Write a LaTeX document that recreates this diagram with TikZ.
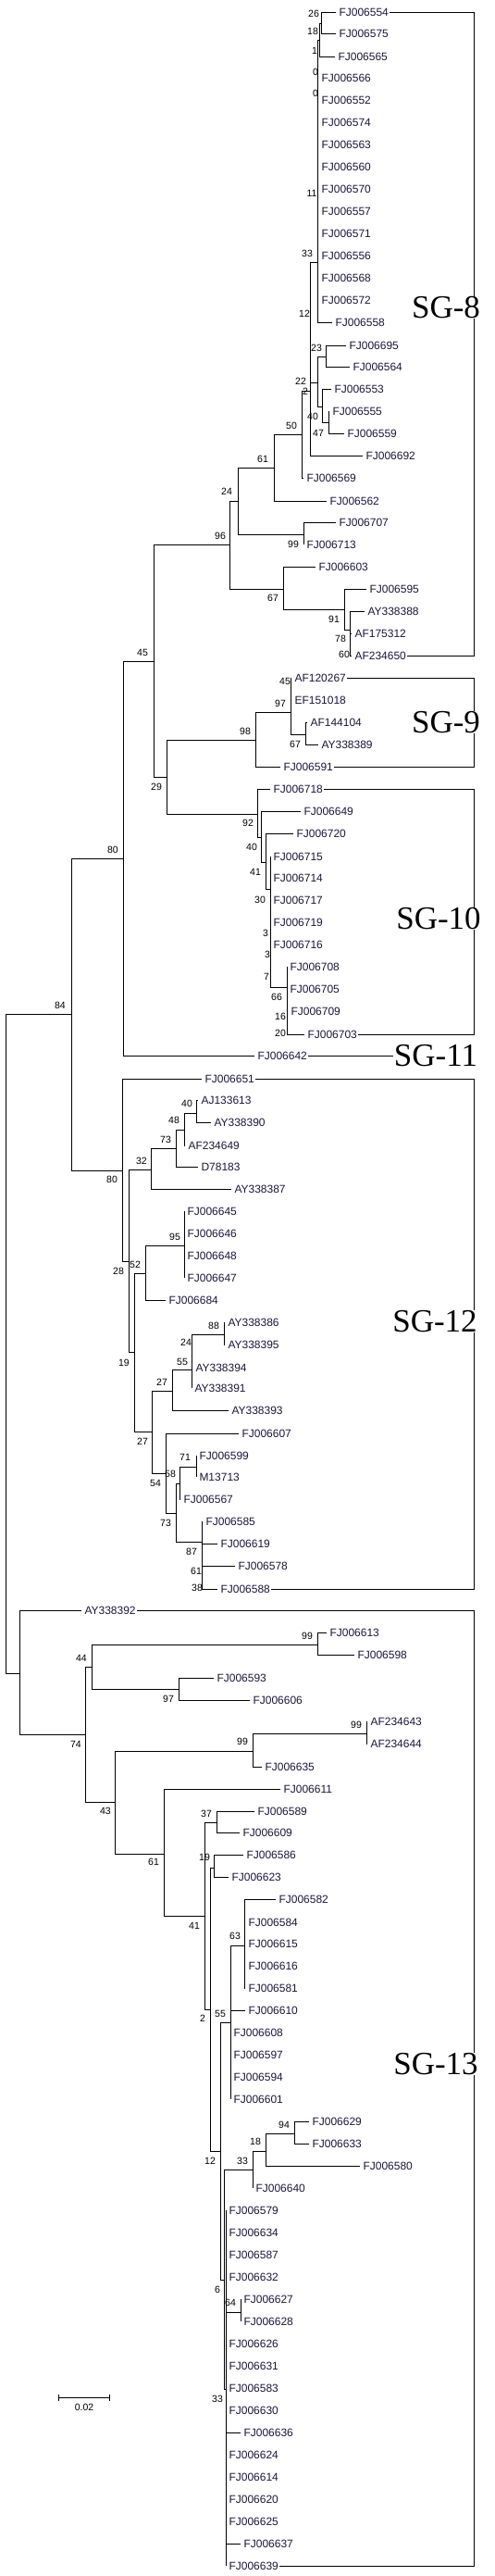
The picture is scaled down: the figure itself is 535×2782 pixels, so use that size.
\documentclass[tikz,border=0pt]{standalone}
\usepackage{fontspec}
\setmainfont{Liberation Sans}
\newfontfamily\sgfont{Liberation Serif}
\usetikzlibrary{arrows.meta}
\definecolor{taxonink}{RGB}{28,22,58}
\def\fork(#1)(#2)(#3){\coordinate (#2) at (#3); \draw (#1) |- (#2);}
\def\taxon(#1)(#2)(#3){\node[taxon] (#2) at (#3) {#2}; \draw (#1) |- ([xshift=-2pt]#2.west);}
\def\clade(#1)(#2)(#3)(#4)(#5){\draw (#1.east) -- (#1.east -| sgx) |- (#2.east); \node[sg] (#3) at (#4) {#5};}
\tikzset{
  taxon/.style={anchor=west, xshift=-2pt, inner xsep=1pt, inner ysep=0pt, text height=8.6pt, text depth=0pt, font=\fontsize{12}{12}\selectfont, text=taxonink},
  boot/.style={inner sep=0pt, font=\fontsize{10.5}{10.5}\selectfont},
  sg/.style={fill=white, inner sep=0.5pt, text height=23pt, text depth=0pt, font=\sgfont\fontsize{35}{35}\selectfont}
}

\begin{document}
\begin{tikzpicture}[x=1pt, y=-1pt, line width=1pt]
			%%%%% START %%%%%
			\useasboundingbox (0,0) rectangle (535,2782);
			\coordinate (root) at (6,1451);
			\coordinate (sgx) at (512,0);
			
			%% upper part
			\fork(root)(n84)(77,1095)
			\fork(n84)(n80a)(133,927)
			\fork(n80a)(n45)(166,714)
			\fork(n45)(n96)(248,588)
			\fork(n96)(n24)(257,541)
			\fork(n24)(n61)(296,505)
			\fork(n61)(n50)(326,469)
			\fork(n50)(n12)(335,422)
			\fork(n12)(nP)(343,283)
			\fork(nP)(nB)(345,43)
			\fork(nB)(nA)(347,25)
			\taxon(nA)(FJ006554)(367,13)
			\taxon(nA)(FJ006575)(367,36)
			\taxon(nB)(FJ006565)(366,61)
			\taxon(nP)(FJ006566)(348,84)
			\taxon(nP)(FJ006552)(348,108)
			\taxon(nP)(FJ006574)(348,132)
			\taxon(nP)(FJ006563)(348,156)
			\taxon(nP)(FJ006560)(348,180)
			\taxon(nP)(FJ006570)(348,204)
			\taxon(nP)(FJ006557)(348,228)
			\taxon(nP)(FJ006571)(348,252)
			\taxon(nP)(FJ006556)(348,276)
			\taxon(nP)(FJ006568)(348,300)
			\taxon(nP)(FJ006572)(348,324)
			\taxon(nP)(FJ006558)(363,348)
			\fork(n12)(n22)(343,413)
			\fork(n22)(n23)(352,385)
			\taxon(n23)(FJ006695)(378,373)
			\taxon(n23)(FJ006564)(382,396)
			\fork(n22)(n40)(348,439)
			\taxon(n40)(FJ006553)(362,420)
			\fork(n40)(n47)(355,456)
			\taxon(n47)(FJ006555)(360,444)
			\taxon(n47)(FJ006559)(376,468)
			\taxon(n12)(FJ006692)(396,492)
			\taxon(n50)(FJ006569)(332,516)
			\taxon(n61)(FJ006562)(357,541)
			\fork(n24)(n99a)(328,577)
			\taxon(n99a)(FJ006707)(367,564)
			\taxon(n99a)(FJ006713)(332,588)
			\fork(n96)(n67)(306,636)
			\taxon(n67)(FJ006603)(345,612)
			\fork(n67)(n91)(372,658)
			\taxon(n91)(FJ006595)(400,636)
			\fork(n91)(n78)(378,680)
			\taxon(n78)(AY338388)(398,660)
			\taxon(n78)(AF175312)(384,684)
			\taxon(n78)(AF234650)(384,708)
			
			\fork(n45)(n29)(180,839)
			\fork(n29)(n98)(276,799)
			\fork(n98)(n97a)(314,769)
			\taxon(n97a)(AF120267)(319,732)
			\taxon(n97a)(EF151018)(319,756)
			\fork(n97a)(n67b)(330,793)
			\taxon(n67b)(AF144104)(336,780)
			\taxon(n67b)(AY338389)(348,804)
			\taxon(n98)(FJ006591)(307,828)
			\fork(n29)(n92)(278,879)
			\taxon(n92)(FJ006718)(296,852)
			\fork(n92)(n40b)(282,904)
			\taxon(n40b)(FJ006649)(329,876)
			\fork(n40b)(n41)(287,931)
			\taxon(n41)(FJ006720)(321,900)
			\fork(n41)(nQ)(292,960)
			\taxon(nQ)(FJ006715)(296,925)
			\taxon(nQ)(FJ006714)(296,948)
			\taxon(nQ)(FJ006717)(296,972)
			\taxon(nQ)(FJ006719)(296,996)
			\taxon(nQ)(FJ006716)(296,1020)
			\fork(nQ)(n66)(310,1066)
			\taxon(n66)(FJ006708)(314,1044)
			\taxon(n66)(FJ006705)(314,1068)
			\taxon(n66)(FJ006709)(315,1092)
			\taxon(n66)(FJ006703)(333,1117)
			\taxon(n80a)(FJ006642)(279,1140)
			
			\fork(n84)(n80b)(132,1264)
			\taxon(n80b)(FJ006651)(222,1165)
			\fork(n80b)(n28)(139,1362)
			\fork(n28)(n32)(163,1263)
			\fork(n32)(n73a)(190,1240)
			\fork(n73a)(n48)(199,1220)
			\fork(n48)(n40c)(212,1202)
			\taxon(n40c)(AJ133613)(218,1188)
			\taxon(n40c)(AY338390)(232,1212)
			\taxon(n48)(AF234649)(204,1237)
			\taxon(n73a)(D78183)(218,1260)
			\taxon(n32)(AY338387)(254,1284)
			\fork(n28)(n19)(145,1460)
			\fork(n19)(n52)(157,1375)
			\fork(n52)(n95)(199,1345)
			\taxon(n95)(FJ006645)(203,1308)
			\taxon(n95)(FJ006646)(203,1332)
			\taxon(n95)(FJ006648)(203,1356)
			\taxon(n95)(FJ006647)(203,1380)
			\taxon(n52)(FJ006684)(183,1404)
			\fork(n19)(n27b)(164,1546)
			\fork(n27b)(n27a)(186,1502)
			\fork(n27a)(n55a)(207,1479)
			\fork(n55a)(n88)(242,1441)
			\taxon(n88)(AY338386)(247,1428)
			\taxon(n88)(AY338395)(247,1452)
			\taxon(n55a)(AY338394)(212,1477)
			\taxon(n55a)(AY338391)(211,1499)
			\taxon(n27a)(AY338393)(251,1523)
			\fork(n27b)(n58)(179,1591)
			\taxon(n58)(FJ006607)(262,1548)
			\fork(n58)(n73b)(190,1634)
			\fork(n73b)(n54)(194,1602)
			\fork(n54)(n71)(212,1584)
			\taxon(n71)(FJ006599)(216,1572)
			\taxon(n71)(M13713)(216,1595)
			\taxon(n54)(FJ006567)(199,1619)
			\fork(n73b)(n87)(218,1665)
			\taxon(n87)(FJ006585)(223,1643)
			\taxon(n87)(FJ006619)(239,1667)
			\taxon(n87)(FJ006578)(258,1691)
			\taxon(n87)(FJ006588)(239,1716)
			
			%% lower part
			\fork(root)(nr2)(21,1807)
			\taxon(nr2)(AY338392)(92,1739)
			\fork(nr2)(n74)(92,1873)
			\fork(n74)(n44)(99,1800)
			\fork(n44)(n99b)(343,1776)
			\taxon(n99b)(FJ006613)(357,1763)
			\taxon(n99b)(FJ006598)(387,1787)
			\fork(n44)(n97b)(193,1824)
			\taxon(n97b)(FJ006593)(235,1812)
			\taxon(n97b)(FJ006606)(274,1836)
			\fork(n74)(n43)(124,1946)
			\fork(n43)(n99d)(273,1891)
			\fork(n99d)(n99c)(396,1872)
			\taxon(n99c)(AF234643)(401,1859)
			\taxon(n99c)(AF234644)(401,1883)
			\taxon(n99d)(FJ006635)(287,1908)
			\fork(n43)(n61b)(177,2002)
			\taxon(n61b)(FJ006611)(307,1932)
			\fork(n61b)(n41b)(221,2069)
			\fork(n41b)(n37)(234,1968)
			\taxon(n37)(FJ006589)(279,1956)
			\taxon(n37)(FJ006609)(263,1979)
			\fork(n41b)(n2)(227,2170)
			\fork(n2)(n19b)(231,2017)
			\taxon(n19b)(FJ006586)(267,2003)
			\taxon(n19b)(FJ006623)(251,2027)
			\fork(n2)(n12b)(238,2323)
			\fork(n12b)(n55b)(249,2184)
			\fork(n55b)(n63)(264,2101)
			\taxon(n63)(FJ006582)(302,2051)
			\taxon(n63)(FJ006584)(269,2076)
			\taxon(n63)(FJ006615)(269,2099)
			\taxon(n63)(FJ006616)(269,2123)
			\taxon(n63)(FJ006581)(269,2147)
			\taxon(n55b)(FJ006610)(269,2171)
			\taxon(n55b)(FJ006608)(253,2195)
			\taxon(n55b)(FJ006597)(253,2219)
			\taxon(n55b)(FJ006594)(253,2243)
			\taxon(n55b)(FJ006601)(253,2267)
			\fork(n12b)(n6)(242,2462)
			\fork(n6)(n33b)(273,2343)
			\fork(n33b)(n18)(287,2323)
			\fork(n18)(n94)(318,2304)
			\taxon(n94)(FJ006629)(338,2291)
			\taxon(n94)(FJ006633)(338,2315)
			\taxon(n18)(FJ006580)(393,2339)
			\taxon(n33b)(FJ006640)(277,2363)
			\fork(n6)(nR)(244,2580)
			\taxon(nR)(FJ006579)(248,2387)
			\taxon(nR)(FJ006634)(248,2411)
			\taxon(nR)(FJ006587)(248,2435)
			\taxon(nR)(FJ006632)(248,2459)
			\fork(nR)(n64)(260,2497)
			\taxon(n64)(FJ006627)(264,2483)
			\taxon(n64)(FJ006628)(264,2507)
			\taxon(nR)(FJ006626)(248,2531)
			\taxon(nR)(FJ006631)(248,2555)
			\taxon(nR)(FJ006583)(248,2579)
			\taxon(nR)(FJ006630)(248,2603)
			\taxon(nR)(FJ006636)(264,2627)
			\taxon(nR)(FJ006624)(248,2651)
			\taxon(nR)(FJ006614)(248,2675)
			\taxon(nR)(FJ006620)(248,2699)
			\taxon(nR)(FJ006625)(248,2723)
			\taxon(nR)(FJ006637)(264,2747)
			\taxon(nR)(FJ006639)(248,2771)
			
			%% bootstrap values
			\foreach \v/\x/\y [count=\i] in {26/339/15, 18/338/34, 1/340/55, 0/341/78, 0/341/101, 11/337/209,
				33/332/274, 12/329/339, 23/342/376, 22/325/412, 2/330/423, 40/338/450, 50/315/460, 47/344/468,
				61/284/496, 24/245/531, 99/317/588, 96/238/579, 67/295/646, 91/361/669, 78/368/690, 60/372/707,
				45/154/705, 45/308/736, 97/303/760, 98/265/790, 67/319/804, 29/169/850, 92/268/889, 40/272/915,
				80/122/918, 41/276/942, 30/281/972, 3/287/1008, 3/289/1031, 7/288/1055, 66/299/1077, 16/303/1098,
				20/303/1116, 84/65/1086, 40/202/1192, 48/188/1210, 73/179/1231, 32/153/1254, 80/121/1274,
				95/189/1336, 52/146/1366, 28/128/1373, 19/134/1472, 88/231/1432, 24/201/1450, 55/197/1471,
				27/175/1493, 27/154/1557, 71/200/1574, 58/184/1592, 54/168/1602, 73/179/1645, 87/207/1676,
				61/212/1697, 38/213/1715, 99/332/1767, 44/88/1791, 97/182/1835, 99/385/1863, 74/82/1884,
				99/262/1881, 43/114/1956, 37/223/1959, 61/166/2011, 19/221/2006, 41/210/2080, 63/254/2091,
				2/219/2180, 55/238/2175, 94/307/2295, 18/276/2313, 12/227/2334, 33/262/2334, 6/235/2473,
				64/249/2487, 33/235/2591}
				\node[boot] (bs\i) at (\x,\y) {\v};
			
			%% groups
			\clade(FJ006554)(AF234650)(sg8)(482,332)(SG-8)
			\clade(AF120267)(FJ006591)(sg9)(482,780)(SG-9)
			\clade(FJ006718)(FJ006703)(sg10)(474,992)(SG-10)
			\node[sg] (sg11) at (471,1140) {SG-11};
			\draw (FJ006642.east) -- (sg11.west);
			\clade(FJ006651)(FJ006588)(sg12)(470,1427)(SG-12)
			\clade(AY338392)(FJ006639)(sg13)(471,2229)(SG-13)
			
			%% scale
			\coordinate (sbl) at (63,2589);
			\coordinate (sbr) at (119,2589);
			\draw[{Bar[width=7pt]}-{Bar[width=7pt]}] (sbl) -- (sbr);
			\node[boot] (sbtext) at (91,2600) {0.02};
			%%%%% END %%%%%
		\end{tikzpicture}
\end{document}
